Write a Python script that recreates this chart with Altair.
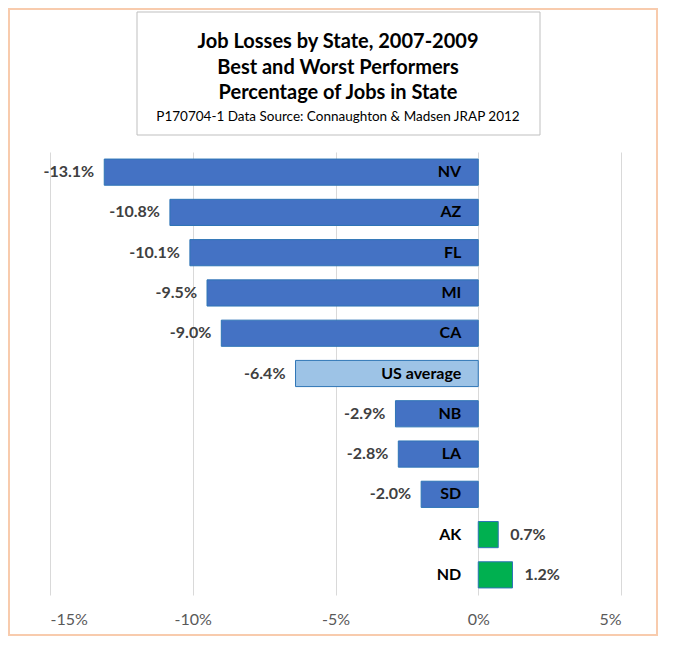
import altair as alt
import pandas as pd

states = ["NV", "AZ", "FL", "MI", "CA", "US average", "NB", "LA", "SD", "AK", "ND"]
values = [-13.1, -10.8, -10.1, -9.5, -9.0, -6.4, -2.9, -2.8, -2.0, 0.7, 1.2]
groups = ["worst", "worst", "worst", "worst", "worst", "us", "worst", "worst", "worst", "best", "best"]
x_ticks = [-15, -10, -5, 0, 5]
title_lines = ["Job Losses by State, 2007-2009", "Best and Worst Performers",
               "Percentage of Jobs in State"]
subtitle = "P170704-1 Data Source: Connaughton & Madsen JRAP 2012"

df = pd.DataFrame({"state": states, "value": values, "group": groups})

FONT = "Lato"
W, H = 571, 443

base = alt.Chart(df).transform_calculate(
    label="(datum.value < 0 ? '-' : '') + format(abs(datum.value), '.1f') + '%'"
)

y_enc = alt.Y("state:N", sort=states, axis=None,
              scale=alt.Scale(paddingInner=0.35, paddingOuter=0.175))

bars = base.mark_bar(stroke="#2e75b6", strokeWidth=1).encode(
    x=alt.X("value:Q",
            scale=alt.Scale(domain=[-15, 5], nice=False, zero=False),
            axis=alt.Axis(values=x_ticks, labelExpr="datum.value + '%'", title=None,
                          grid=True, gridColor="#d9d9d9", domain=False, ticks=False,
                          labelFont=FONT, labelFontSize=16, labelColor="#595959",
                          labelPadding=16)),
    x2=alt.datum(0),
    y=y_enc,
    color=alt.Color("group:N", legend=None,
                    scale=alt.Scale(domain=["worst", "us", "best"],
                                    range=["#4472c4", "#9dc3e6", "#00b050"])),
)

val_neg = base.transform_filter("datum.value < 0").mark_text(
    align="right", baseline="middle", dx=-10, font=FONT, fontSize=16,
    fontWeight="bold", color="#404040"
).encode(x="value:Q", y=y_enc, text="label:N")

val_pos = base.transform_filter("datum.value >= 0").mark_text(
    align="left", baseline="middle", dx=12, font=FONT, fontSize=16,
    fontWeight="bold", color="#404040"
).encode(x="value:Q", y=y_enc, text="label:N")

cat = base.mark_text(
    align="right", baseline="middle", dx=-17, font=FONT, fontSize=16,
    fontWeight="bold", color="#000000"
).encode(x=alt.datum(0), y=y_enc, text="state:N")

deco = alt.Chart(pd.DataFrame({"k": [0]}))

title_box = deco.mark_rect(fill="white", stroke="#bfbfbf", strokeWidth=1).encode(
    x=alt.value(87), x2=alt.value(490), y=alt.value(-140), y2=alt.value(-17)
)

outer_box = deco.mark_rect(fillOpacity=0, stroke="#f8cbad", strokeWidth=2).encode(
    x=alt.value(-41), x2=alt.value(607), y=alt.value(-143), y2=alt.value(483)
)

title_marks = []
for i, line in enumerate(title_lines):
    title_marks.append(
        deco.mark_text(text=line, font=FONT, fontSize=20, fontWeight="bold",
                       color="#000000", align="center", baseline="middle").encode(
            x=alt.value(288), y=alt.value(-110 + 25.5 * i))
    )
title_marks.append(
    deco.mark_text(text=subtitle, font=FONT, fontSize=13.5, color="#000000",
                   align="center", baseline="middle").encode(
        x=alt.value(288), y=alt.value(-35))
)

chart = alt.layer(outer_box, title_box, *title_marks, bars, val_neg, val_pos, cat).properties(
    width=W, height=H,
    padding={"left": 42, "top": 144, "right": 40, "bottom": 50},
    autosize=alt.AutoSizeParams(type="none"),
    background="white",
).configure_view(stroke="transparent", strokeWidth=0)

chart.save("out.html", embed_options={"renderer": "svg", "actions": False})
